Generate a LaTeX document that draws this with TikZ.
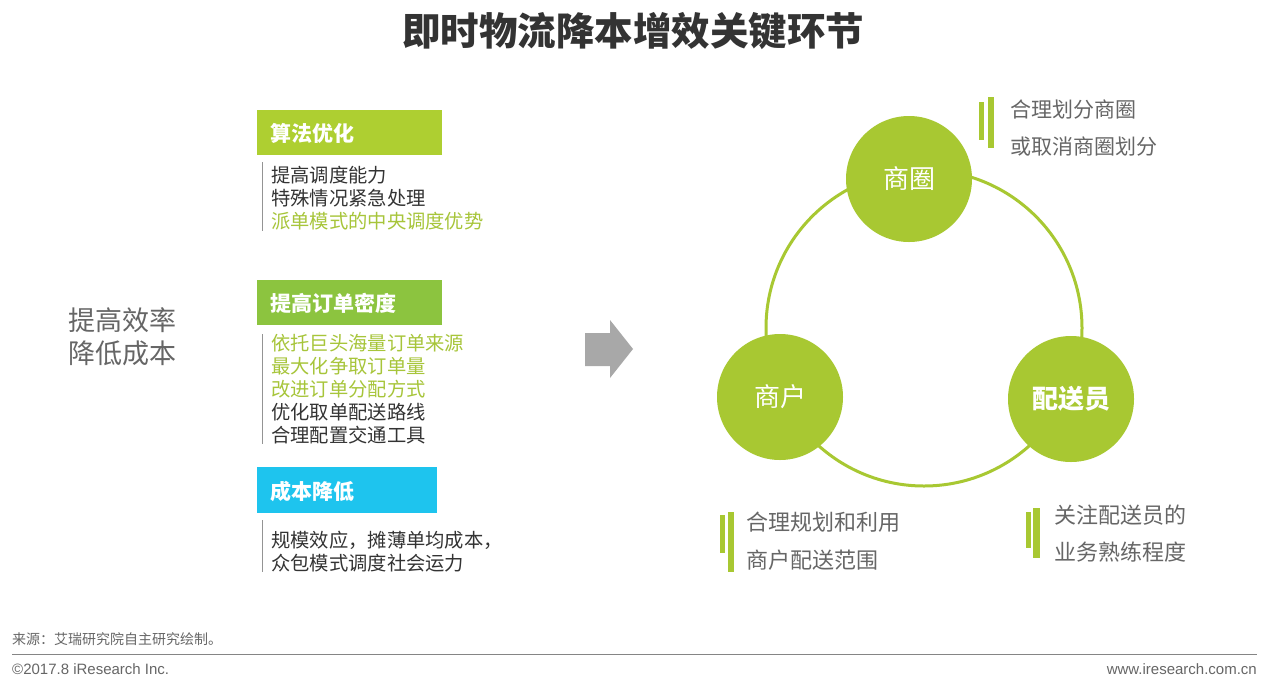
\documentclass[tikz,border=0pt]{standalone}
\usepackage{fontspec}
\setmainfont{Noto Sans CJK SC}
\newfontfamily\latinfont{Liberation Sans}
\definecolor{lime}{HTML}{AECF31}
\definecolor{leaf}{HTML}{8CC43F}
\definecolor{cyanbox}{HTML}{1EC4EE}
\definecolor{ringc}{HTML}{A8C832}
\definecolor{greentxt}{HTML}{A7C53A}
\definecolor{darktxt}{HTML}{333333}
\definecolor{graytxt}{HTML}{666666}
\definecolor{arrowgray}{HTML}{A8A8A8}
\newcommand{\fs}[1]{\fontsize{#1}{#1}\selectfont}
\tikzset{
  txt/.style={inner sep=0pt, anchor=west, font=\fs{19.3}, text=darktxt},
  gtxt/.style={txt, text=greentxt},
  boxlabel/.style={inner sep=0pt, anchor=west, font=\fs{21}\bfseries, text=white},
  hub/.style={circle, fill=ringc, minimum size=126pt, inner sep=0pt, text=white, font=\fs{26}},
  note/.style={inner sep=0pt, anchor=west, font=\fs{21}, text=graytxt},
  bar/.style={fill=ringc, draw=none},
  vline/.style={draw=graytxt!70, line width=1pt},
}
\begin{document}
\begin{tikzpicture}[x=1pt,y=-1pt]
\useasboundingbox[fill=white] (0,0) rectangle (1269,689);
% title
\node[inner sep=0pt, font=\fs{38.5}\bfseries, text=darktxt] (title) at (633,31) {即时物流降本增效关键环节};
% left summary
\node[inner sep=0pt, anchor=west, font=\fs{27}, text=graytxt] (s1) at (68,320) {提高效率};
\node[inner sep=0pt, anchor=west, font=\fs{27}, text=graytxt] (s2) at (68,353) {降低成本};
% box 1
\fill[lime] (257,110) rectangle (442,155);
\node[boxlabel] (b1) at (270,133) {算法优化};
\draw[vline] (262,162) -- (262,231);
\node[txt] (l11) at (271,175) {提高调度能力};
\node[txt] (l12) at (271,198) {特殊情况紧急处理};
\node[gtxt] (l13) at (271,221) {派单模式的中央调度优势};
% box 2
\fill[leaf] (257,280) rectangle (442,325);
\node[boxlabel] (b2) at (270,303) {提高订单密度};
\draw[vline] (262,334) -- (262,444);
\node[gtxt] (l21) at (271,343) {依托巨头海量订单来源};
\node[gtxt] (l22) at (271,366) {最大化争取订单量};
\node[gtxt] (l23) at (271,389) {改进订单分配方式};
\node[txt] (l24) at (271,412) {优化取单配送路线};
\node[txt] (l25) at (271,435) {合理配置交通工具};
% box 3
\fill[cyanbox] (257,467) rectangle (437,513);
\node[boxlabel] (b3) at (270,491) {成本降低};
\draw[vline] (262,520) -- (262,572);
\node[txt] (l31) at (271,540) {规模效应，摊薄单均成本，};
\node[txt] (l32) at (271,563) {众包模式调度社会运力};
% arrow
\fill[arrowgray] (585,333) -- (610,333) -- (610,320) -- (633,349) -- (610,378) -- (610,366) -- (585,366) -- cycle;
% ring
\draw[ringc, line width=3pt] (924,328) circle (158);
\node[hub] (c1) at (909,179) {商圈};
\node[hub] (c2) at (780,397) {商户};
\node[hub, font=\fs{26}\bfseries] (c3) at (1071,399) {配送员};
% notes
\fill[bar] (979,102) rectangle (984,140);
\fill[bar] (988,97) rectangle (994,148);
\node[note] (n11) at (1010,110) {合理划分商圈};
\node[note] (n12) at (1010,147) {或取消商圈划分};
\fill[bar] (720,515) rectangle (725,553);
\fill[bar] (728,512) rectangle (734,572);
\node[note, font=\fs{22}] (n21) at (746,522) {合理规划和利用};
\node[note, font=\fs{22}] (n22) at (746,560) {商户配送范围};
\fill[bar] (1026,512) rectangle (1031,548);
\fill[bar] (1033,508) rectangle (1040,558);
\node[note, font=\fs{22}] (n31) at (1054,515) {关注配送员的};
\node[note, font=\fs{22}] (n32) at (1054,552) {业务熟练程度};
% footer
\node[inner sep=0pt, anchor=west, font=\fs{14}, text=graytxt] (src) at (12,639) {来源：艾瑞研究院自主研究绘制。};
\coordinate (fl) at (12,654);
\coordinate (fr) at (1257,654);
\draw[graytxt!80, line width=1pt] (fl) -- (fr);
\node[inner sep=0pt, anchor=west, font=\latinfont\fs{15}, text=graytxt] (copy) at (12,669) {©2017.8 iResearch Inc.};
\node[inner sep=0pt, anchor=east, font=\latinfont\fs{15}, text=graytxt] (web) at (1257,669) {www.iresearch.com.cn};
\end{tikzpicture}
\end{document}
